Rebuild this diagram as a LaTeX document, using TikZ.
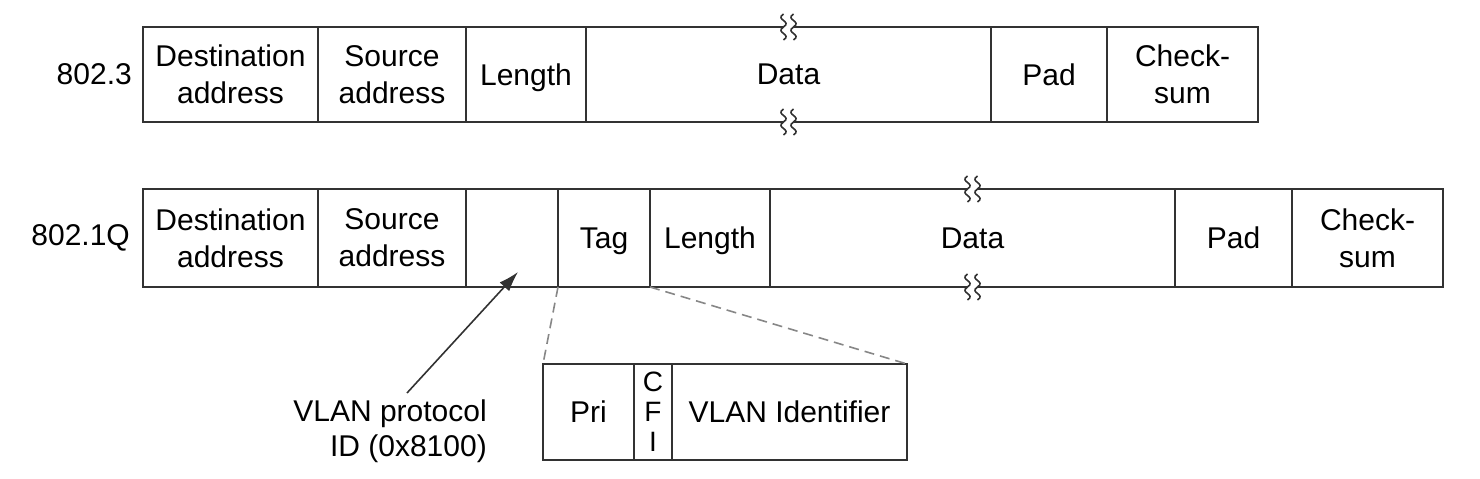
\documentclass[tikz,border=0pt]{standalone}
\usepackage{fontspec}
\setmainfont{Liberation Sans}
\usepackage{xcolor}
\usepackage{tikz}
\usetikzlibrary{positioning, arrows.meta}
\definecolor{framegray}{RGB}{50,50,50}
\definecolor{dashgray}{RGB}{135,135,135}

\begin{document}
\begin{tikzpicture}[x=1pt, y=-1pt,
        field/.style={draw=framegray, line width=1.8pt, rectangle, inner sep=0pt, outer sep=0pt, align=center, text depth=0pt, font=\fontsize{30}{37}\selectfont},
        rowa/.style={field, minimum height=95pt},
        rowb/.style={field, minimum height=98pt},
        tagfield/.style={field, minimum height=96pt},
        lbl/.style={inner sep=0pt, font=\fontsize{30}{37}\selectfont},
        zoomline/.style={draw=dashgray, line width=1.6pt, dash pattern=on 10pt off 6pt},
        ptrarrow/.style={-{Latex[length=20pt, width=13pt]}, line width=1.6pt, framegray}
    ]
    \useasboundingbox (0,0) rectangle (1480,479);

    % 802.3 frame
    \node[rowa, minimum width=175pt] (dst1) at (230.5,74.5) {Destination\\address};
    \node[rowa, minimum width=148pt] (src1) at (392,74.5) {Source\\address};
    \node[rowa, minimum width=120pt] (len1) at (526,74.5) {Length};
    \node[rowa, minimum width=405pt] (data1) at (788.5,74.5) {Data};
    \node[rowa, minimum width=116pt] (pad1) at (1049,74.5) {Pad};
    \node[rowa, minimum width=151pt] (sum1) at (1182.5,74.5) {Check-\\sum};
    \node[lbl, left=11pt of dst1] (std1) {802.3};

    % 802.1Q frame
    \node[rowb, minimum width=175pt] (dst2) at (230.5,238) {Destination\\address};
    \node[rowb, minimum width=148pt] (src2) at (392,238) {Source\\address};
    \node[rowb, minimum width=92pt] (vlan2) at (512,238) {};
    \node[rowb, minimum width=92pt] (tag2) at (604,238) {Tag};
    \node[rowb, minimum width=120pt] (len2) at (710,238) {Length};
    \node[rowb, minimum width=405pt] (data2) at (972.5,238) {Data};
    \node[rowb, minimum width=117pt] (pad2) at (1233.5,238) {Pad};
    \node[rowb, minimum width=151pt] (sum2) at (1367.5,238) {Check-\\sum};
    \node[lbl, left=13pt of dst2] (std2) {802.1Q};

    % tag fields
    \node[tagfield, minimum width=91pt] (pri) at (588.5,412) {Pri};
    \node[tagfield, minimum width=38pt, font=\fontsize{28}{30}\selectfont] (cfi) at (653,412) {C\\F\\I};
    \node[tagfield, minimum width=235pt] (vid) at (789.5,412) {VLAN Identifier};

    \draw[zoomline] (tag2.south west) -- (pri.north west);
    \draw[zoomline] (tag2.south east) -- (vid.north east);

    % breaks in the data field
    \foreach \p in {data1.north, data1.south, data2.north, data2.south} {
        \fill[white] ([xshift=-5pt, yshift=-2pt]\p) rectangle ([xshift=5pt, yshift=2pt]\p);
        \foreach \dx in {-5,5}
            \draw[framegray, line width=1.6pt] ([xshift=\dx pt, yshift=13pt]\p) .. controls +(-9pt,-6pt) and +(9pt,6pt) .. ([xshift=\dx pt]\p) .. controls +(-9pt,-6pt) and +(9pt,6pt) .. ([xshift=\dx pt, yshift=-13pt]\p);
    }

    % protocol id pointer
    \node[lbl, align=right, anchor=north east, font=\fontsize{30}{35}\selectfont] (vlanid) at (487,400) {VLAN protocol\\ID (0x8100)};
    \coordinate (tail) at (407,393);
    \coordinate (ptr) at (518,272);
    \draw[ptrarrow] (tail) -- (ptr);

    \end{tikzpicture}
\end{document}
